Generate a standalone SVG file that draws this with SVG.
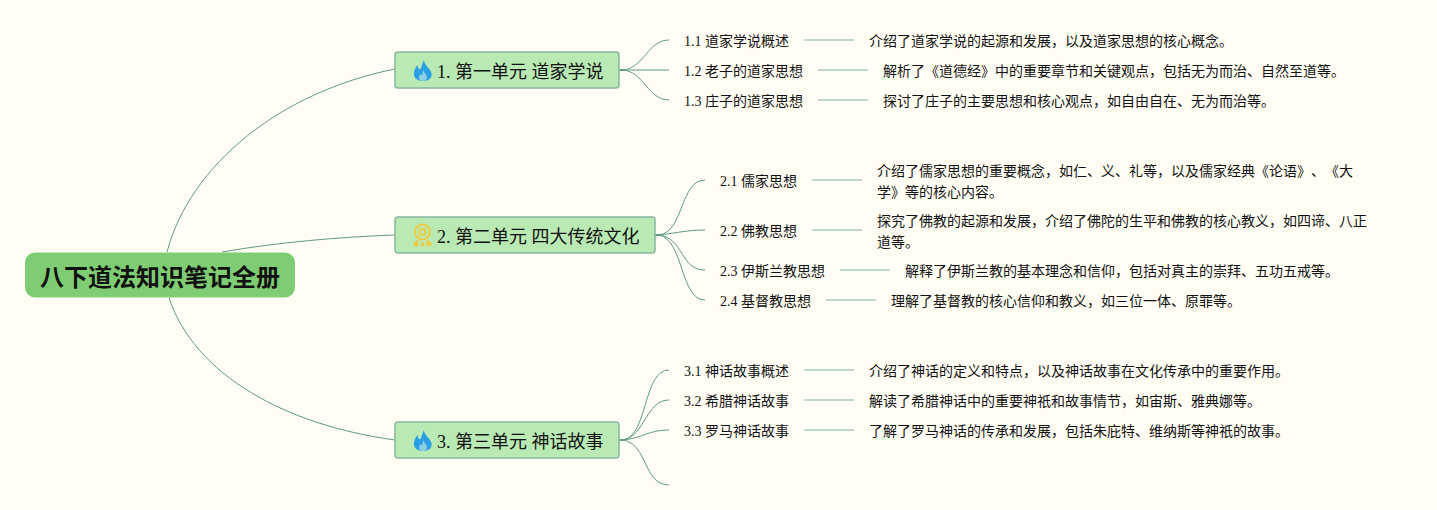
<svg xmlns="http://www.w3.org/2000/svg" width="1437" height="510" viewBox="0 0 1437 510">
<style>
text{font-family:"Liberation Serif","Noto Sans CJK SC",sans-serif;fill:#111;text-spacing-trim:space-all}
.c{fill:none;stroke:#5f9c85;stroke-width:1}
.st{fill:none;stroke:#5f9c85;stroke-width:2}
.t{stroke:#a9cdb9;stroke-width:1.5;fill:none}
.b{fill:#b9eab3;stroke:#87b7a0;stroke-width:1.5}
.bt{font-size:18px}
.s{font-size:14px}
.d{font-size:14px}
.fl{fill:#2b9fe6}
.fi{fill:#8fd0e0}
</style>
<defs>
<path id="flame" d="M424 60C424 65 430 68 431.500 73C432.500 78 428.500 81 423 81C416.500 81 413 77 414 72C414.500 69 416 67 417.500 65C418 67.500 418.500 69 420 69.500C422 67 422 63 424 60Z"/>
<path id="flamei" d="M423.500 70C423.500 73 427 74.500 427 77C427 79.500 425 81 423 81C420.500 81 419 79.500 419 77.500C419 76 420 75 420.500 74C421 75 421.500 75.500 422 75.500C422.500 74 422.500 72 423.500 70Z"/>
</defs>
<rect width="1437" height="510" fill="#fffdf4"/>
<g id="connectors">
<path class="c" d="M167 252C190 165 280 92 395 69"/>
<path class="c" d="M222 252C280 242 340 237 395 235"/>
<path class="c" d="M169 298C195 375 285 425 395 440"/>
<path class="st" d="M619 70H624M655 235H660M619 440H624"/>
<path class="c" d="M623 70C644 68 648 40 669 40"/>
<path class="c" d="M623 70H669" stroke-width="1.500"/>
<path class="c" d="M623 70C644 72 648 100 669 100"/>
<path class="c" d="M659 235C684 232 680 180 705 180"/>
<path class="c" d="M659 235C677 233 687 230 705 230"/>
<path class="c" d="M659 235C684 238 680 270 705 270"/>
<path class="c" d="M659 235C684 240 680 300 705 300"/>
<path class="c" d="M623 440C648 436 643 370 669 370"/>
<path class="c" d="M623 440C645 436 646 400 669 400"/>
<path class="c" d="M623 440C643 438 648 430 669 430"/>
<path class="c" d="M623 440C648 444 643 485 669 485"/>
<path class="t" d="M804 40H854M818 70H868M818 100H868M812 180H862M812 230H862M840 270H890M826 300H876M804 370H854M804 400H854M804 430H854"/>
</g>
<g id="root"><rect x="25" y="252.500" width="270" height="45" rx="10" fill="#7fcd73"/>
<text x="160" y="286" text-anchor="middle" font-size="24" font-weight="700">八下道法知识笔记全册</text></g>
<g id="b1"><rect class="b" x="395" y="52" width="224" height="36" rx="3"/>
<use href="#flame" class="fl"/><use href="#flamei" class="fi"/>
<text class="bt" x="437" y="78">1. 第一单元 道家学说</text></g>
<g id="b2"><rect class="b" x="395" y="217" width="260" height="36" rx="3"/>
<g fill="none" stroke="#efca45" stroke-width="2"><circle cx="422.500" cy="232" r="7.500"/><circle cx="422.500" cy="232" r="3"/><path d="M418 240L416 244M427 240L429 244"/></g><circle cx="416" cy="244" r="2.500" fill="#efca45"/><circle cx="422.500" cy="244.500" r="2" fill="#efca45"/><circle cx="429" cy="244" r="2.500" fill="#efca45"/>
<text class="bt" x="437" y="243">2. 第二单元 四大传统文化</text></g>
<g id="b3"><rect class="b" x="395" y="422" width="224" height="36" rx="3"/>
<use href="#flame" class="fl" y="370"/><use href="#flamei" class="fi" y="370"/>
<text class="bt" x="437" y="448">3. 第三单元 神话故事</text></g>
<g id="n11"><text class="s" x="684" y="46">1.1 道家学说概述</text><text class="d" x="869" y="46">介绍了道家学说的起源和发展，以及道家思想的核心概念。</text></g>
<g id="n12"><text class="s" x="684" y="76">1.2 老子的道家思想</text><text class="d" x="883" y="76">解析了《道德经》中的重要章节和关键观点，包括无为而治、自然至道等。</text></g>
<g id="n13"><text class="s" x="684" y="106">1.3 庄子的道家思想</text><text class="d" x="883" y="106">探讨了庄子的主要思想和核心观点，如自由自在、无为而治等。</text></g>
<g id="n21"><text class="s" x="720" y="186">2.1 儒家思想</text><text class="d" x="877" y="176">介绍了儒家思想的重要概念，如仁、义、礼等，以及儒家经典《论语》、《大</text><text class="d" x="877" y="197">学》等的核心内容。</text></g>
<g id="n22"><text class="s" x="720" y="236">2.2 佛教思想</text><text class="d" x="877" y="226">探究了佛教的起源和发展，介绍了佛陀的生平和佛教的核心教义，如四谛、八正</text><text class="d" x="877" y="247">道等。</text></g>
<g id="n23"><text class="s" x="720" y="276">2.3 伊斯兰教思想</text><text class="d" x="905" y="276">解释了伊斯兰教的基本理念和信仰，包括对真主的崇拜、五功五戒等。</text></g>
<g id="n24"><text class="s" x="720" y="306">2.4 基督教思想</text><text class="d" x="891" y="306">理解了基督教的核心信仰和教义，如三位一体、原罪等。</text></g>
<g id="n31"><text class="s" x="684" y="376">3.1 神话故事概述</text><text class="d" x="869" y="376">介绍了神话的定义和特点，以及神话故事在文化传承中的重要作用。</text></g>
<g id="n32"><text class="s" x="684" y="406">3.2 希腊神话故事</text><text class="d" x="869" y="406">解读了希腊神话中的重要神祇和故事情节，如宙斯、雅典娜等。</text></g>
<g id="n33"><text class="s" x="684" y="436">3.3 罗马神话故事</text><text class="d" x="869" y="436">了解了罗马神话的传承和发展，包括朱庇特、维纳斯等神祇的故事。</text></g>
</svg>
